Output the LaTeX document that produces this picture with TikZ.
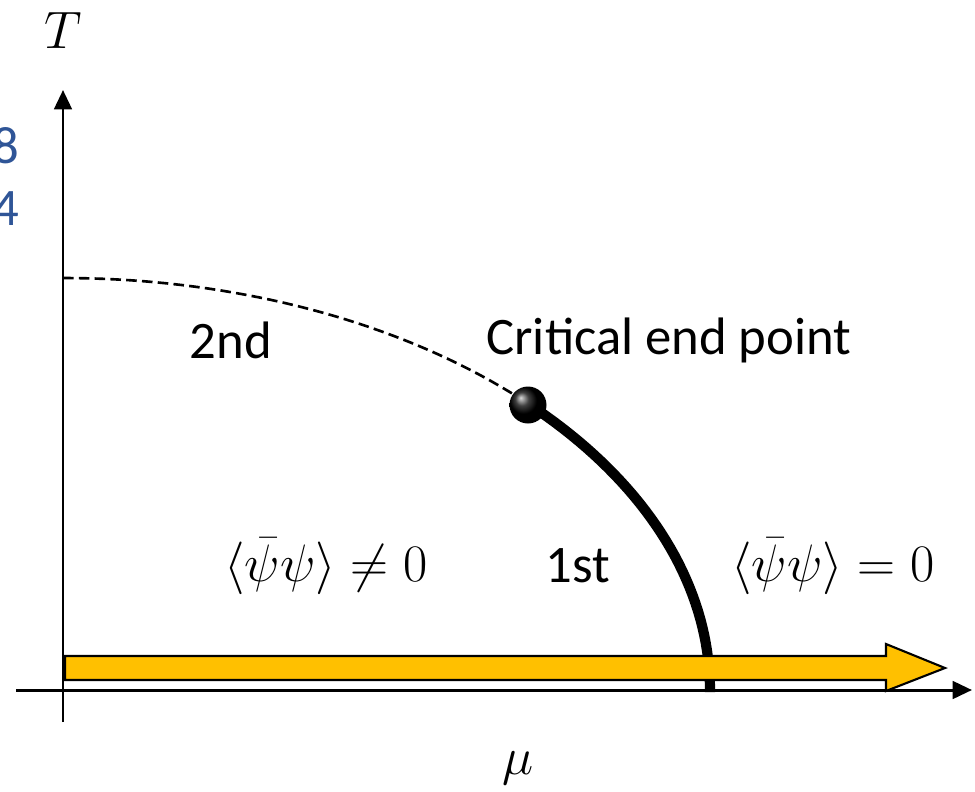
\documentclass[tikz,border=0pt]{standalone}
\usepackage{fix-cm}
\usepackage{amsmath}
\usepackage{amssymb}
\usepackage[no-math]{fontspec}
\setmainfont{Carlito}
\usetikzlibrary{arrows.meta}
\definecolor{phaseyellow}{RGB}{255,192,0}
\definecolor{tickblue}{RGB}{47,85,151}
\tikzset{
  axis/.style={line width=1.7pt, -{Triangle[length=11pt,width=10pt]}},
  lbl/.style={font=\fontsize{30}{36}\selectfont, inner sep=0pt},
  tick/.style={font=\fontsize{30}{36}\selectfont, text=tickblue, inner sep=0pt, anchor=east}
}

\begin{document}
\begin{tikzpicture}[x=0.02cm, y=-0.02cm]
\useasboundingbox (0,0) rectangle (975,792);
% axes
\coordinate (xl) at (16,690);
\coordinate (xr) at (972,690);
\coordinate (yb) at (63,722);
\coordinate (yt) at (63,90);
\draw[axis] (xl) -- (xr);
\draw[axis] (yb) -- (yt);
\node[lbl] (tlab) at (63,30) {$T$};
\node[lbl] (mulab) at (518,768) {$\mu$};
\node[tick] (t8) at (20,146) {8};
\node[tick] (t4) at (20,209) {4};
% phase boundary
\draw[dashed, line width=1.5pt, dash pattern=on 6pt off 3pt]
  plot[domain=90:44, samples=40] ({63+647*cos(\x)},{690-412*sin(\x)});
\draw[line width=5.8pt]
  plot[domain=44:-0.3, samples=40] ({63+647*cos(\x)},{690-412*sin(\x)});
\node[circle, minimum size=37*0.02cm, inner sep=0pt, shading=ball, ball color=black] (cep) at (528,405) {};
% chemical potential arrow
\draw[line width=1.2pt, fill=phaseyellow, line join=miter]
  (65,656) -- (886,656) -- (886,644) -- (945,668) -- (886,691) -- (886,680) -- (65,680) -- cycle;
% labels
\node[lbl] (second) at (231,340) {2nd};
\node[lbl] (cepl) at (669,340) {Critical end point};
\node[lbl] (first) at (578,566) {1st};
\node[lbl] (broken) at (326,566) {$\langle\bar{\psi}\psi\rangle \neq 0$};
\node[lbl] (restored) at (833,566) {$\langle\bar{\psi}\psi\rangle = 0$};
\end{tikzpicture}
\end{document}
